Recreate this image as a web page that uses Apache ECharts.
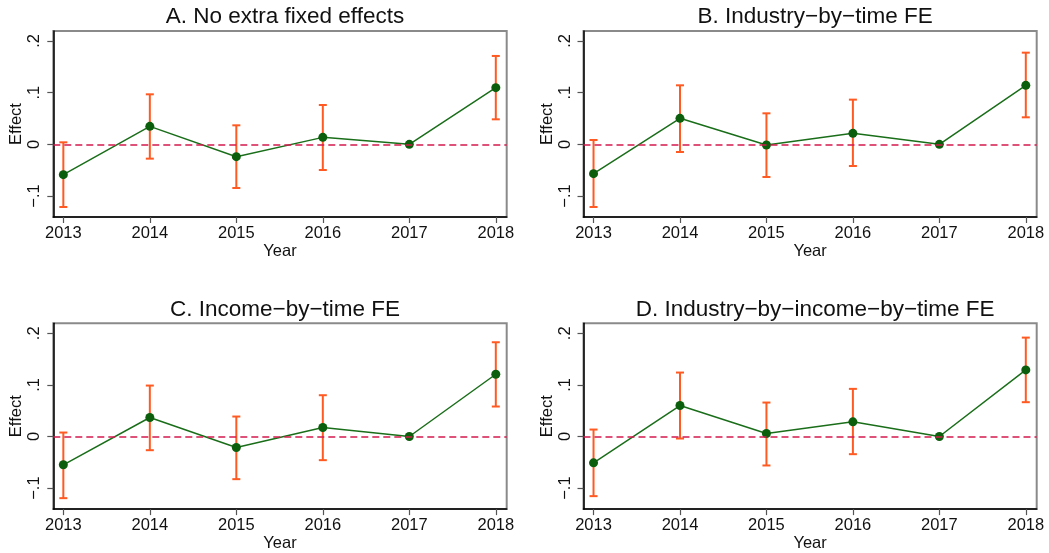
<!DOCTYPE html>
<html>
<head>
<meta charset="utf-8">
<script src="https://cdn.jsdelivr.net/npm/echarts@6/dist/echarts.min.js"></script>
<style>
  html, body { margin: 0; padding: 0; background: #ffffff; }
  #chart { width: 1049px; height: 553px; }
</style>
</head>
<body>
<div id="chart"></div>
<script>
// Event-study estimates by year, one panel per fixed-effects specification
const years = [2013, 2014, 2015, 2016, 2017, 2018];
const panelTitles = [
  'A. No extra fixed effects',
  'B. Industry\u2212by\u2212time FE',
  'C. Income\u2212by\u2212time FE',
  'D. Industry\u2212by\u2212income\u2212by\u2212time FE'
];

// Point estimates (2017 is the reference year)
const estA = [-0.0587, 0.0348, -0.0239, 0.0135, 0, 0.1097];
const estB = [-0.0568, 0.0503, -0.0013, 0.0213, 0, 0.1142];
const estC = [-0.0548, 0.0368, -0.0213, 0.0174, 0, 0.1206];
const estD = [-0.0510, 0.0600, 0.0058, 0.0284, 0, 0.1290];

// Confidence interval bounds (null for the reference year)
const loA = [-0.1213, -0.0277, -0.0845, -0.0497, null, 0.0484];
const hiA = [0.0039, 0.0968, 0.0368, 0.0761, null, 0.1710];
const loB = [-0.1213, -0.0148, -0.0632, -0.0419, null, 0.0523];
const hiB = [0.0084, 0.1142, 0.0600, 0.0865, null, 0.1774];
const loC = [-0.1194, -0.0265, -0.0826, -0.0458, null, 0.0581];
const hiC = [0.0077, 0.0987, 0.0387, 0.0800, null, 0.1826];
const loD = [-0.1155, -0.0039, -0.0561, -0.0342, null, 0.0665];
const hiD = [0.0135, 0.1239, 0.0658, 0.0923, null, 0.1916];

const yTickValues = [-0.1, 0, 0.1, 0.2];
const yTickLabels = ['\u2212.1', '0', '.1', '.2'];

const estimates = [estA, estB, estC, estD];
const lowers = [loA, loB, loC, loD];
const uppers = [hiA, hiB, hiC, hiD];

const FONT = '"Liberation Sans", Arial, Helvetica, sans-serif';
const GREEN_LINE = '#1a6e1a';
const GREEN_DOT = '#0b5e0b';
const CI_COLOR = '#ff5a22';
const REF_COLOR = '#d41a4e';
const AXIS_FONT = 16.5;

// Panel boxes in pixels: [left, top, right, bottom] offsets
const boxes = [
  { left: 53.3, top: 31, right: 542.3, bottom: 336 },
  { left: 583.5, top: 31, right: 12.3, bottom: 336 },
  { left: 53.3, top: 323.3, right: 542.3, bottom: 43 },
  { left: 583.5, top: 323.3, right: 12.3, bottom: 43 }
];

const chart = echarts.init(document.getElementById('chart'), null, { renderer: 'canvas' });

const grids = [], xAxes = [], yAxes = [], series = [], titles = [];

boxes.forEach((b, i) => {
  grids.push({
    left: b.left, top: b.top, right: b.right, bottom: b.bottom,
    show: true, borderColor: '#8a8a8a', borderWidth: 2, backgroundColor: '#ffffff'
  });
  const boxLeft = b.left, boxRight = 1049 - b.right;
  titles.push({
    text: panelTitles[i],
    left: (boxLeft + boxRight) / 2,
    top: b.top - 30.5,
    textAlign: 'center',
    textStyle: { fontFamily: FONT, fontSize: 22.5, fontWeight: 'normal', color: '#111' }
  });
  xAxes.push({
    type: 'value', gridIndex: i, min: 2012.884, max: 2018.126,
    name: 'Year', nameLocation: 'middle', nameGap: 23,
    nameTextStyle: { fontFamily: FONT, fontSize: AXIS_FONT, color: '#111' },
    axisLine: { show: true, onZero: false, lineStyle: { color: '#000', width: 1.5 } },
    axisTick: { show: true, inside: false, length: 6, customValues: years, lineStyle: { color: '#555', width: 1.2 } },
    axisLabel: {
      customValues: years, margin: 8, formatter: v => String(Math.round(v)),
      fontFamily: FONT, fontSize: AXIS_FONT, color: '#111'
    },
    splitLine: { show: false }
  });
  yAxes.push({
    type: 'value', gridIndex: i, min: -0.1406, max: 0.2193,
    name: 'Effect', nameLocation: 'middle', nameGap: 28, nameRotate: 90,
    nameTextStyle: { fontFamily: FONT, fontSize: AXIS_FONT, color: '#111' },
    axisLine: { show: true, onZero: false, lineStyle: { color: '#000', width: 1.5 } },
    axisTick: { show: true, inside: false, length: 6, customValues: yTickValues, lineStyle: { color: '#555', width: 1.2 } },
    axisLabel: {
      customValues: yTickValues, rotate: 90, margin: 10,
      formatter: v => {
        const k = yTickValues.findIndex(t => Math.abs(t - v) < 1e-9);
        return k >= 0 ? yTickLabels[k] : '';
      },
      fontFamily: FONT, fontSize: AXIS_FONT, color: '#111'
    },
    splitLine: { show: false }
  });

  // Confidence intervals as capped vertical bars
  const ciData = [];
  years.forEach((yr, k) => {
    if (lowers[i][k] !== null) ciData.push([yr, lowers[i][k], uppers[i][k]]);
  });
  series.push({
    type: 'custom', xAxisIndex: i, yAxisIndex: i, z: 3,
    data: ciData,
    renderItem: (params, api) => {
      const x = api.value(0);
      const lo = api.coord([x, api.value(1)]);
      const hi = api.coord([x, api.value(2)]);
      const cap = 4;
      const style = { stroke: CI_COLOR, lineWidth: 2 };
      return {
        type: 'group',
        children: [
          { type: 'line', shape: { x1: lo[0], y1: lo[1], x2: hi[0], y2: hi[1] }, style },
          { type: 'line', shape: { x1: hi[0] - cap, y1: hi[1], x2: hi[0] + cap, y2: hi[1] }, style },
          { type: 'line', shape: { x1: lo[0] - cap, y1: lo[1], x2: lo[0] + cap, y2: lo[1] }, style }
        ]
      };
    }
  });

  // Point estimates joined by a line, with the dashed zero reference
  series.push({
    type: 'line', xAxisIndex: i, yAxisIndex: i, z: 4,
    data: years.map((yr, k) => [yr, estimates[i][k]]),
    symbol: 'circle', symbolSize: 9,
    lineStyle: { color: GREEN_LINE, width: 1.5 },
    itemStyle: { color: GREEN_DOT },
    animation: false,
    markLine: {
      silent: true, symbol: 'none', z: 5,
      label: { show: false },
      lineStyle: { color: REF_COLOR, type: [7, 4], width: 1.6 },
      data: [{ yAxis: 0 }]
    }
  });
});

chart.setOption({
  animation: false,
  backgroundColor: '#ffffff',
  title: titles,
  grid: grids,
  xAxis: xAxes,
  yAxis: yAxes,
  series: series
});
</script>
</body>
</html>
